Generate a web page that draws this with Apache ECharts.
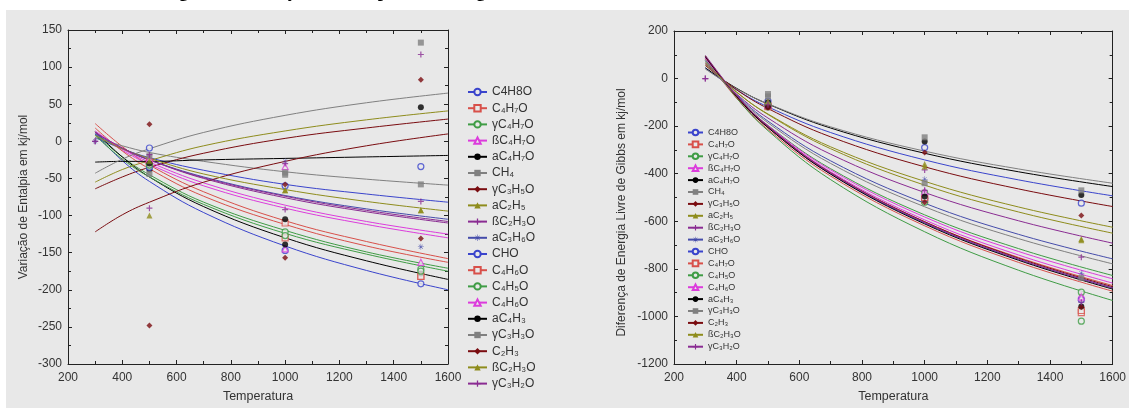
<!DOCTYPE html>
<html lang="pt">
<head>
  <meta charset="utf-8">
</head>
<body style="margin: 0; background: #fff">
  <div id="container" style="width: 1129px; height: 408px"></div>

  <script type="text/javascript" src="https://cdn.jsdelivr.net/npm/echarts@6/dist/echarts.min.js"></script>
  <script type="text/javascript">
// temperatures where the fitted curves were read, and where the data points sit
var curveT = [300, 400, 500, 700, 1000, 1300, 1600];
var pointT = [300, 500, 1000, 1500];

var hLabels = ['C4H8O', 'C₄H₇O', 'γC₄H₇O', 'ßC₄H₇O', 'aC₄H₇O', 'CH₄', 'γC₃H₅O', 'aC₂H₅', 'ßC₂H₃O', 'aC₃H₆O',
  'CHO', 'C₄H₆O', 'C₄H₅O', 'C₄H₆O', 'aC₄H₃', 'γC₃H₃O', 'C₂H₃', 'ßC₂H₃O', 'γC₃H₂O'];
var gLabels = ['C4H8O', 'C₄H₇O', 'γC₄H₇O', 'ßC₄H₇O', 'aC₄H₇O', 'CH₄', 'γC₃H₅O', 'aC₂H₅', 'ßC₂H₃O', 'aC₃H₆O',
  'CHO', 'C₄H₇O', 'C₄H₅O', 'C₄H₆O', 'aC₄H₃', 'γC₃H₃O', 'C₂H₃', 'ßC₂H₃O', 'γC₃H₂O'];

// Variação de Entalpia - fitted curves at curveT
var hCurves = [
  [5, -10, -22, -39, -58, -71, -82],
  [24, -7, -32, -68, -107, -135, -158],
  [10, -21, -45, -82, -120, -149, -171],
  [12, -12, -31, -60, -90, -112, -130],
  [13, -21, -48, -88, -130, -161, -186],
  [5, -6, -15, -27, -41, -51, -59],
  [-64, -48, -35, -16, 4, 18, 30],
  [-55, -38, -26, -6, 14, 29, 41],
  [12, -9, -25, -50, -76, -95, -110],
  [10, -10, -25, -48, -73, -91, -105],
  [10, -26, -54, -96, -141, -174, -200],
  [18, -13, -37, -74, -112, -141, -163],
  [8, -24, -48, -85, -124, -152, -175],
  [14, -10, -28, -56, -86, -108, -125],
  [-28, -27, -27, -25, -23, -21, -19],
  [-43, -24, -10, 12, 35, 52, 65],
  [-122, -99, -82, -55, -27, -6, 10],
  [8, -10, -23, -44, -65, -81, -94],
  [12, -9, -25, -49, -74, -93, -108]
];
// Variação de Entalpia - data points at pointT
var hPoints = [
  [null, -9, -60, -34],
  [null, -28, -110, -182],
  [null, -30, -122, -172],
  [null, -22, -34, null],
  [null, -38, -105, -178],
  [null, -44, -45, -58],
  [null, 23, -58, 83],
  [null, -100, -66, -93],
  [0, -90, -92, -81],
  [0, -25, -27, -142],
  [null, -35, -147, -192],
  [null, -28, -130, -182],
  [null, -32, -127, -175],
  [null, -24, -145, -163],
  [null, -30, -139, 46],
  [null, -20, -42, 133],
  [null, -248, -157, -131],
  [null, -26, -66, -93],
  [0, -18, -30, 117]
];

// Diferença de Energia Livre de Gibbs - fitted curves at curveT
var gCurves = [
  [45, -48, -119, -227, -342, -426, -493],
  [85, -83, -214, -410, -619, -773, -894],
  [95, -82, -219, -425, -644, -806, -933],
  [88, -75, -201, -392, -594, -742, -860],
  [45, -41, -107, -208, -314, -392, -454],
  [40, -43, -106, -203, -305, -380, -440],
  [55, -47, -126, -245, -371, -464, -538],
  [60, -58, -149, -287, -432, -540, -625],
  [65, -65, -166, -318, -479, -598, -692],
  [75, -68, -179, -346, -524, -655, -758],
  [90, -77, -206, -401, -607, -760, -880],
  [85, -79, -206, -398, -602, -752, -870],
  [80, -76, -197, -379, -573, -715, -828],
  [85, -74, -198, -384, -582, -727, -842],
  [92, -76, -206, -402, -611, -764, -885],
  [75, -72, -186, -357, -539, -673, -779],
  [95, -72, -201, -396, -602, -755, -875],
  [68, -56, -151, -295, -448, -561, -650],
  [98, -70, -200, -397, -605, -759, -880]
];
// Diferença de Energia Livre de Gibbs - data points at pointT
var gPoints = [
  [null, -95, -290, -524],
  [null, -115, -510, -984],
  [null, -120, -520, -1020],
  [null, -110, -490, -910],
  [null, -100, -265, -489],
  [null, -65, -247, -470],
  [null, -120, -311, -576],
  [null, -100, -359, -674],
  [0, -105, -384, -751],
  [null, -105, -423, -818],
  [null, -115, -505, -930],
  [null, -118, -500, -975],
  [null, -112, -480, -898],
  [null, -110, -475, -919],
  [null, -118, -496, -958],
  [null, -75, -440, -838],
  [null, -122, -520, -960],
  [null, -100, -370, -680],
  [0, -110, -470, -940]
];

var BG = '#e8e8e8';
var FONT = '"Liberation Sans", Arial, sans-serif';
var PLUS = 'path://M4,0h2v4h4v2h-4v4h-2v-4h-4v-2h4z';
var STAR = 'path://M4.6,0h0.8v10h-0.8z M0,4.6h10v0.8h-10z M1.3,1.9l0.6,-0.6l6.8,6.8l-0.6,0.6z M1.3,8.1l6.8,-6.8l0.6,0.6l-6.8,6.8z';

var colors = ['#3a44cc', '#d8504a', '#3f9c45', '#dc3cdc', '#000000', '#808080', '#7a0c10', '#8e8c1c', '#8a2c92', '#454caa',
  '#3a44cc', '#d8504a', '#3f9c45', '#dc3cdc', '#000000', '#808080', '#7a0c10', '#8e8c1c', '#8a2c92'];
var symbols = ['circle', 'rect', 'circle', 'triangle', 'circle', 'rect', 'diamond', 'triangle', PLUS, STAR,
  'circle', 'rect', 'circle', 'triangle', 'circle', 'rect', 'diamond', 'triangle', PLUS];
var hollow = [1, 1, 1, 1, 0, 0, 0, 0, 0, 0, 1, 1, 1, 1, 0, 0, 0, 0, 0];

function markStyle(i) {
  return hollow[i]
    ? { color: BG, borderColor: colors[i], borderWidth: 1.2 }
    : { color: colors[i] };
}

function buildSeries(curves, points, prefix, ax) {
  var out = [];
  curves.forEach(function (row, i) {
    out.push({
      name: prefix + i,
      type: 'line',
      xAxisIndex: ax, yAxisIndex: ax,
      data: curveT.map(function (t, k) { return [t, row[k]]; }),
      smooth: 0.4,
      showSymbol: false,
      symbol: symbols[i],
      symbolSize: 7,
      lineStyle: { color: colors[i], width: 1 },
      itemStyle: markStyle(i),
      z: 2
    });
  });
  points.forEach(function (row, i) {
    var d = [];
    row.forEach(function (v, k) { if (v !== null) d.push([pointT[k], v]); });
    out.push({
      name: prefix + i,
      type: 'scatter',
      xAxisIndex: ax, yAxisIndex: ax,
      data: d,
      symbol: symbols[i],
      symbolSize: 6,
      itemStyle: markStyle(i),
      z: 3
    });
  });
  return out;
}

function plain(v) { return String(v); }

function xAxisOf(grid, pos) {
  return {
    gridIndex: grid, type: 'value', position: pos,
    min: 200, max: 1600, interval: 200,
    name: pos === 'bottom' ? 'Temperatura' : '',
    nameLocation: 'middle', nameGap: 26,
    nameTextStyle: { fontSize: 12.5, color: '#333', fontFamily: FONT },
    axisLine: { show: true, onZero: false, lineStyle: { color: '#222' } },
    axisTick: { inside: true, length: 4, lineStyle: { color: '#222' } },
    minorTick: { show: true, splitNumber: 2, length: 3, lineStyle: { color: '#222' } },
    axisLabel: { show: pos === 'bottom', fontSize: 12, color: '#333', margin: 8, fontFamily: FONT, formatter: plain },
    splitLine: { show: false }
  };
}

function yAxisOf(grid, pos, min, max, interval, name, gap, pad) {
  return {
    gridIndex: grid, type: 'value', position: pos,
    min: min, max: max, interval: interval,
    name: pos === 'left' ? name : '',
    nameLocation: 'middle', nameGap: gap,
    nameTextStyle: { fontSize: 12, color: '#333', fontFamily: FONT, padding: pad || 0 },
    axisLine: { show: true, onZero: false, lineStyle: { color: '#222' } },
    axisTick: { inside: true, length: 4, lineStyle: { color: '#222' } },
    minorTick: { show: true, splitNumber: 2, length: 3, lineStyle: { color: '#222' } },
    axisLabel: { show: pos === 'left', fontSize: 12, color: '#333', margin: 6, fontFamily: FONT, formatter: plain },
    splitLine: { show: false }
  };
}

var hNames = hLabels.map(function (l, i) { return 'h' + i; });
var gNames = gLabels.map(function (l, i) { return 'g' + i; });

var myChart = echarts.init(document.getElementById('container'), null, { renderer: 'canvas' });

var option = {
  backgroundColor: '#fff',
  animation: false,
  graphic: [
    {
      type: 'rect', z: -10, silent: true,
      shape: { x: 6, y: 10, width: 1123, height: 398 },
      style: { fill: BG }
    },
    {
      type: 'text', z: -9, silent: true, x: 163, y: 1,
      style: {
        text: 'Figura 5 - Variação da entalpia e da energia livre de Gibbs',
        font: 'bold 18px "Liberation Serif", serif',
        fill: '#000', verticalAlign: 'bottom'
      }
    }
  ],
  grid: [
    { left: 68, top: 30, width: 380, height: 334 },
    { left: 674, top: 31, width: 447, height: 333 }
  ],
  xAxis: [xAxisOf(0, 'bottom'), xAxisOf(0, 'top'), xAxisOf(1, 'bottom'), xAxisOf(1, 'top')],
  yAxis: [
    yAxisOf(0, 'left', -300, 150, 50, 'Variação de Entalpia em kj/mol', 38),
    yAxisOf(0, 'right', -300, 150, 50, '', 0),
    yAxisOf(1, 'left', -1200, 200, 200, 'Diferença de Energia Livre de Gibbs em kj/mol', 46, [0, 30, 0, 0]),
    yAxisOf(1, 'right', -1200, 200, 200, '', 0)
  ],
  legend: [
    {
      orient: 'vertical', left: 467, top: 86, padding: 0,
      itemWidth: 19, itemHeight: 8, itemGap: 4.2,
      selectedMode: false,
      data: hNames,
      formatter: function (n) { return hLabels[+n.slice(1)]; },
      textStyle: { fontSize: 12, lineHeight: 12, color: '#333', fontFamily: FONT }
    },
    {
      orient: 'vertical', left: 687, top: 128, padding: 0,
      itemWidth: 15, itemHeight: 7, itemGap: 2.9,
      selectedMode: false,
      data: gNames,
      formatter: function (n) { return gLabels[+n.slice(1)]; },
      textStyle: { fontSize: 9, lineHeight: 9, color: '#333', fontFamily: FONT }
    }
  ],
  series: buildSeries(hCurves, hPoints, 'h', 0)
    .concat(buildSeries(gCurves, gPoints, 'g', 2).map(function (s) {
      s.xAxisIndex = 2; s.yAxisIndex = 2; return s;
    }))
};

myChart.setOption(option);
window.addEventListener('resize', myChart.resize);
  </script>
</body>
</html>
